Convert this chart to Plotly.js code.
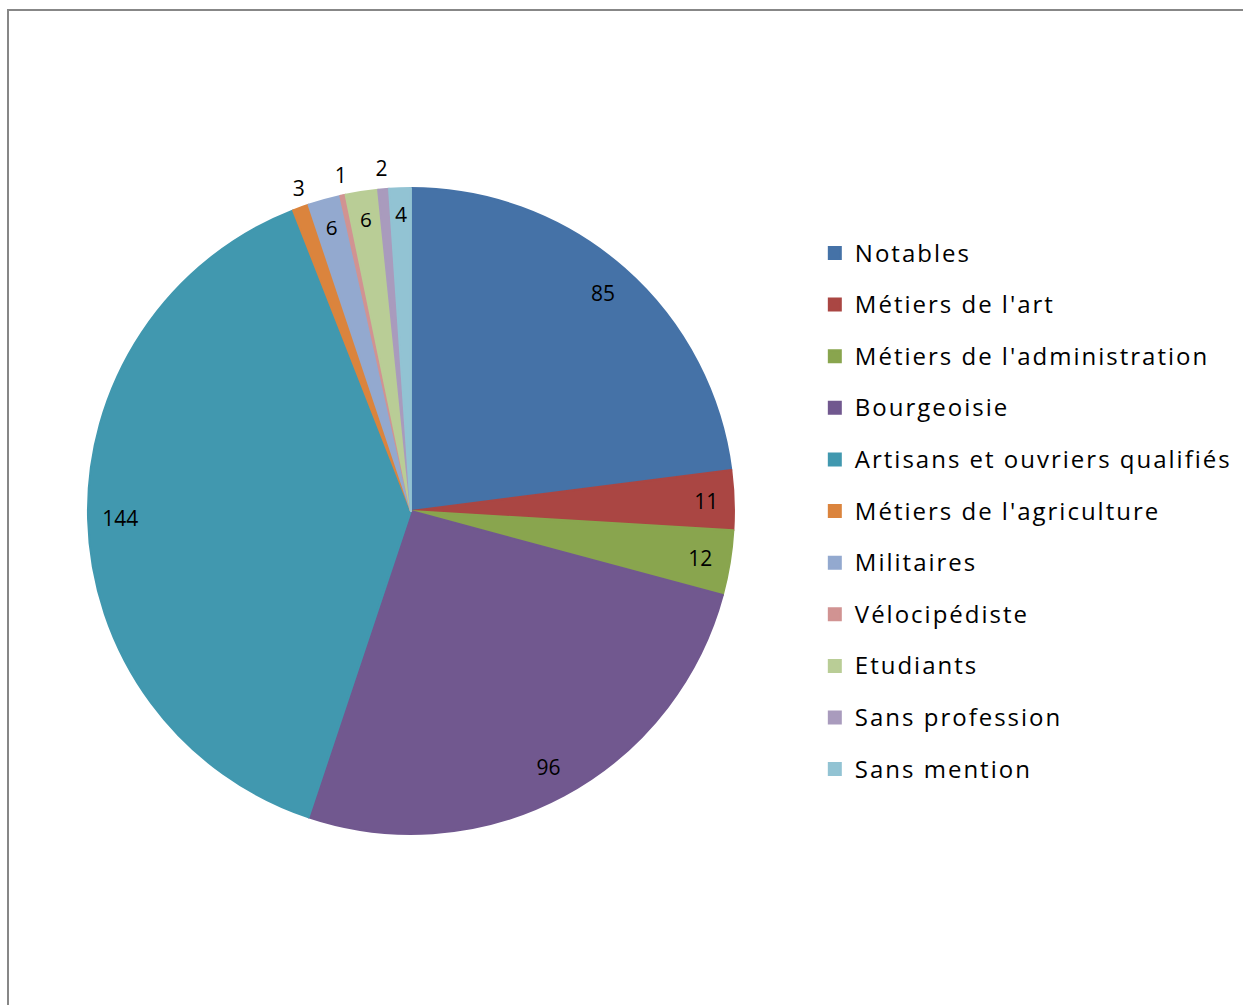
<!DOCTYPE html>
<html>
<head>
<meta charset="utf-8">
<script src="https://cdn.plot.ly/plotly-3.0.1.min.js"></script>
<style>
  html, body { margin: 0; padding: 0; background: #ffffff; }
  #wrap { position: relative; width: 1244px; height: 1005px; overflow: hidden; }
  #chart { position: absolute; left: 0; top: 0; width: 1244px; height: 1005px; }
  #frame { position: absolute; left: 7px; top: 9px; width: 1236px; height: 1000px;
           border-top: 2px solid #878787; border-left: 2px solid #878787;
           pointer-events: none; box-sizing: border-box; }
  .legendtext { letter-spacing: 2px; transform: translateY(-6px); }
</style>
</head>
<body>
<div id="wrap">
  <div id="chart"></div>
  <div id="frame"></div>
</div>
<script>
const categories = [
  "Notables",
  "Métiers de l'art",
  "Métiers de l'administration",
  "Bourgeoisie",
  "Artisans et ouvriers qualifiés",
  "Métiers de l'agriculture",
  "Militaires",
  "Vélocipédiste",
  "Etudiants",
  "Sans profession",
  "Sans mention"
];
const counts = [85, 11, 12, 96, 144, 3, 6, 1, 6, 2, 4];
const colors = ["#4572A7", "#AA4643", "#89A54E", "#71588F", "#4198AF", "#DB843D",
                "#93A9CF", "#D19392", "#B9CD96", "#A99BBD", "#92C3D3"];
// how each value label is shown: inside the slice, in a thin slice, in a narrow slice, or outside it
const labelModes = ["inside", "inside", "inside", "inside", "inside", "outside",
                    "thin", "outside", "thin", "outside", "narrow"];

const legendLabels = categories.map(c => '<span style="font-size:24px">' + c + '</span>');
const domain = { x: [0.0707, 0.5900], y: [0.1701, 0.8129] };
// label carriers (transparent): slightly different extents to place numbers like the original
const thinDomain = { x: [0.0811, 0.5796], y: [0.1830, 0.8000] };
const narrowDomain = { x: [0.0739, 0.5868], y: [0.1741, 0.8089] };
const outerDomain = { x: [0.0795, 0.5988], y: [0.1771, 0.8199] };
const font = { family: "Open Sans, sans-serif", size: 21, color: "#000000" };
const clear = counts.map(() => "rgba(0,0,0,0)");

function overlay(extra) {
  return Object.assign({
    type: "pie",
    labels: categories,
    values: counts,
    sort: false,
    direction: "clockwise",
    rotation: 0,
    showlegend: false,
    textinfo: "value",
    insidetextfont: font,
    outsidetextfont: font,
    textfont: font,
    marker: { colors: clear, line: { width: 0 } },
    hoverinfo: "skip",
    domain: domain
  }, extra);
}
function only(mode, pos) {
  return labelModes.map(m => m === mode ? pos : "none");
}

// main coloured pie (legend source)
const main = {
  type: "pie",
  labels: legendLabels,
  values: counts,
  sort: false,
  direction: "clockwise",
  rotation: 0,
  textinfo: "none",
  marker: { colors: colors, line: { color: colors, width: 2 } },
  hoverinfo: "label+value+percent",
  domain: domain
};

const ring = overlay({ hole: 0.8, textposition: only("inside", "inside"),
                       insidetextorientation: "horizontal" });
const thin = overlay({ hole: 0.8, textposition: only("thin", "inside"),
                       insidetextorientation: "horizontal", domain: thinDomain });
const narrow = overlay({ hole: 0.8, textposition: only("narrow", "inside"),
                         insidetextorientation: "tangential", domain: narrowDomain });

// one transparent overlay per outside label, so each sits at its own slice
const outsideIdx = labelModes.map((m, i) => m === "outside" ? i : -1).filter(i => i >= 0);
const outsideTraces = outsideIdx.map(k => overlay({
  textposition: counts.map((v, i) => i === k ? "outside" : "none"),
  domain: outerDomain
}));

const layout = {
  width: 1244,
  height: 1005,
  margin: { l: 0, r: 0, t: 0, b: 0 },
  paper_bgcolor: "#ffffff",
  showlegend: true,
  legend: {
    x: 0.655, xanchor: "left",
    y: 0.779, yanchor: "top",
    orientation: "v",
    font: { family: "Open Sans, sans-serif", size: 37.4, color: "#000000" },
    bgcolor: "rgba(0,0,0,0)",
    itemclick: false
  }
};

Plotly.newPlot("chart", [main, ring, thin, narrow].concat(outsideTraces), layout,
               { displayModeBar: false, staticPlot: true });
</script>
</body>
</html>
